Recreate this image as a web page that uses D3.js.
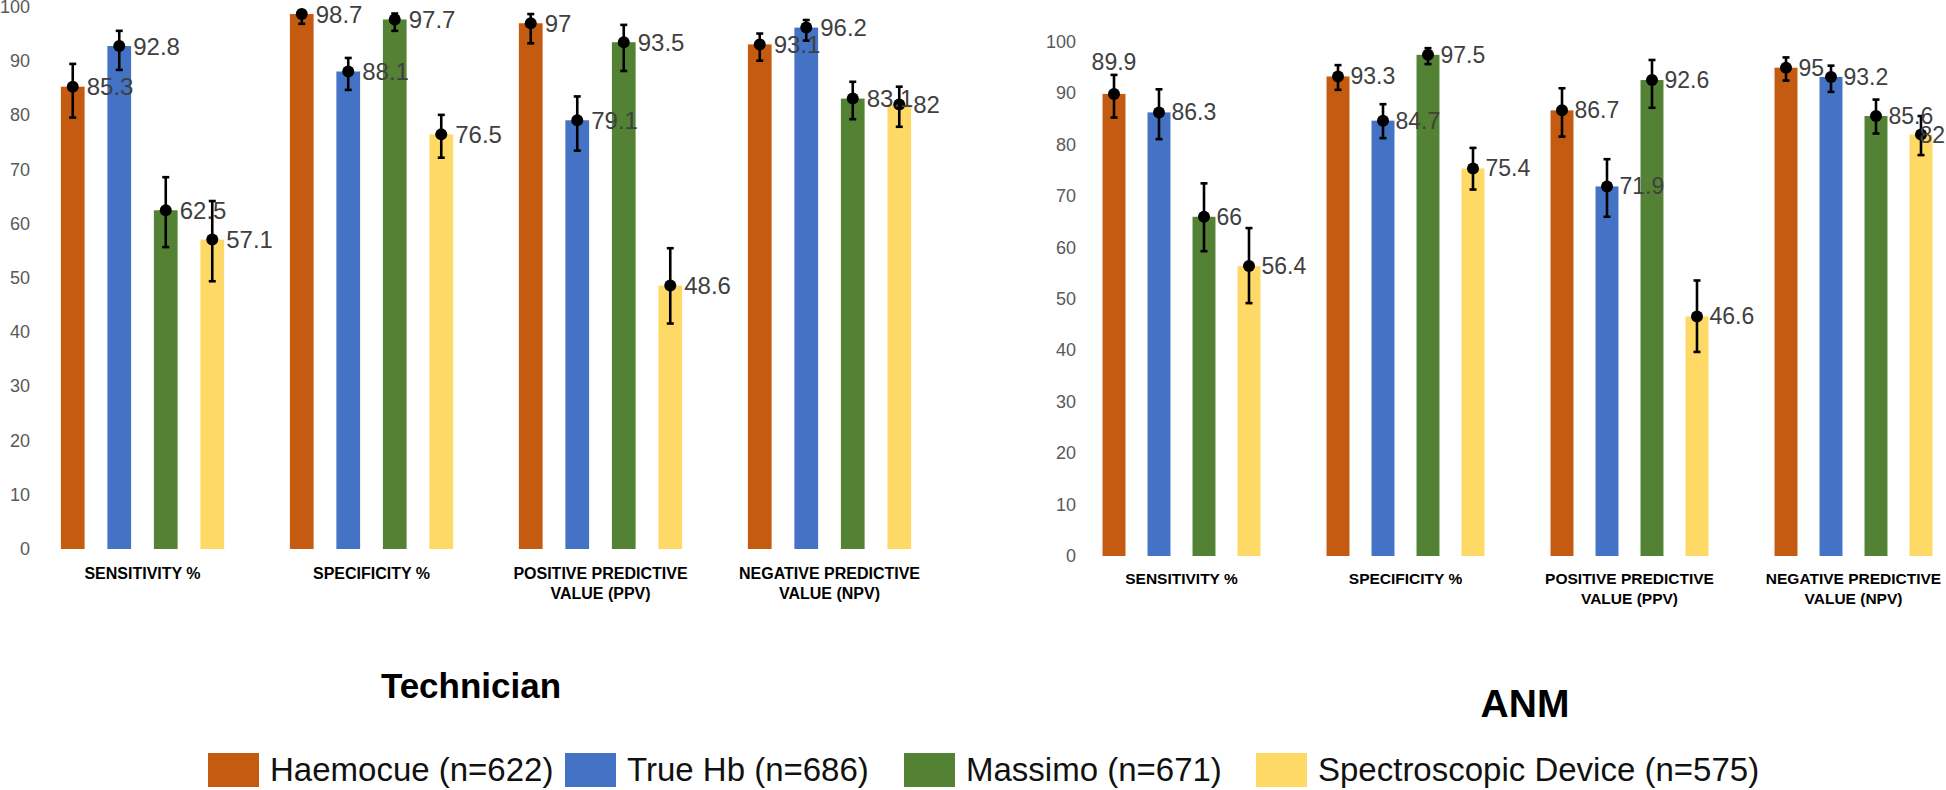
<!DOCTYPE html>
<html lang="en">
	<head>
		<meta charset="utf-8">
		<title>Haemoglobin devices - Technician vs ANM</title>
		<script type="text/javascript" src="https://cdn.jsdelivr.net/npm/d3@7"></script>
		<style type="text/css">
			body{margin:0;background-color:#fff;}
			svg{display:block;font-family:"Liberation Sans",Arial,sans-serif;}
			.tick{fill:#595959;font-size:18px;}
			.cat{fill:#000;font-weight:bold;}
			.val{fill:#404040;}
		</style>
	</head>
	<body>
		<script type="text/javascript">

		// ---- data ----
		var devices = ["Haemocue (n=622)", "True Hb (n=686)", "Massimo (n=671)", "Spectroscopic Device (n=575)"];
		var colors = ["#C55A11", "#4472C4", "#548235", "#FFD966"];
		var metrics = [["SENSITIVITY %"], ["SPECIFICITY %"], ["POSITIVE PREDICTIVE", "VALUE (PPV)"], ["NEGATIVE PREDICTIVE", "VALUE (NPV)"]];
		var yTicks = [0, 10, 20, 30, 40, 50, 60, 70, 80, 90, 100];

		// Technician: one row per metric, one value per device
		var techValues = [
			[85.3, 92.8, 62.5, 57.1],
			[98.7, 88.1, 97.7, 76.5],
			[97, 79.1, 93.5, 48.6],
			[93.1, 96.2, 83.1, 82]
		];
		var techLow = [
			[79.6, 88.4, 55.7, 49.4],
			[96.9, 84.7, 95.6, 72.2],
			[93.3, 73.5, 88.2, 41.6],
			[90.1, 93.8, 79.3, 77.9]
		];
		var techHigh = [
			[89.5, 95.6, 68.6, 64.2],
			[99.3, 90.6, 98.8, 80.1],
			[98.7, 83.5, 96.7, 55.5],
			[95.1, 97.6, 86.2, 85.3]
		];

		// ANM
		var anmValues = [
			[89.9, 86.3, 66, 56.4],
			[93.3, 84.7, 97.5, 75.4],
			[86.7, 71.9, 92.6, 46.6],
			[95, 93.2, 85.6, 82]
		];
		var anmLow = [
			[85.3, 81.1, 59.3, 49.2],
			[90.7, 81.3, 95.7, 71.3],
			[81.6, 66.0, 87.2, 39.7],
			[92.5, 90.3, 82.2, 78.0]
		];
		var anmHigh = [
			[93.6, 90.8, 72.5, 63.8],
			[95.5, 87.9, 98.8, 79.4],
			[91.0, 77.2, 96.5, 53.6],
			[97.0, 95.4, 88.8, 85.6]
		];

		var w = 1946;
		var h = 790;

		var svg = d3.select("body")
					.append("svg")
					.attr("width", w)
					.attr("height", h);

		function drawPanel(p) {
			var g = svg.append("g");

			var x0 = d3.scaleBand()
						.domain(d3.range(metrics.length))
						.range([p.left, p.right]);

			var x1 = d3.scaleBand()
						.domain(d3.range(devices.length))
						.range([0, x0.bandwidth()])
						.paddingInner(0.49)
						.paddingOuter(p.outer);

			var y = d3.scaleLinear()
						.domain([0, 100])
						.range([p.base, p.top]);

			// y tick labels, no axis line
			g.selectAll("text.tick")
			 .data(yTicks)
			 .enter()
			 .append("text")
			 .attr("class", "tick")
			 .attr("x", p.tickX)
			 .attr("y", function(d) { return y(d); })
			 .attr("text-anchor", "end")
			 .attr("dominant-baseline", "central")
			 .text(function(d) { return d; });

			var cells = [];
			p.values.forEach(function(row, m) {
				row.forEach(function(v, s) {
					cells.push({m: m, s: s, v: v, lo: p.low[m][s], hi: p.high[m][s]});
				});
			});
			function cx(d) { return x0(d.m) + x1(d.s) + x1.bandwidth() / 2; }

			g.selectAll("rect")
			 .data(cells)
			 .enter()
			 .append("rect")
			 .attr("x", function(d) { return x0(d.m) + x1(d.s); })
			 .attr("y", function(d) { return y(d.v); })
			 .attr("width", x1.bandwidth())
			 .attr("height", function(d) { return y(0) - y(d.v); })
			 .style("fill", function(d) { return colors[d.s]; });

			// error bars
			var eb = g.selectAll("g.eb")
					  .data(cells)
					  .enter()
					  .append("g");
			eb.append("line")
			  .attr("x1", cx).attr("x2", cx)
			  .attr("y1", function(d) { return y(d.lo); })
			  .attr("y2", function(d) { return y(d.hi); });
			eb.append("line")
			  .attr("x1", function(d) { return cx(d) - 3.5; })
			  .attr("x2", function(d) { return cx(d) + 3.5; })
			  .attr("y1", function(d) { return y(d.hi); })
			  .attr("y2", function(d) { return y(d.hi); });
			eb.append("line")
			  .attr("x1", function(d) { return cx(d) - 3.5; })
			  .attr("x2", function(d) { return cx(d) + 3.5; })
			  .attr("y1", function(d) { return y(d.lo); })
			  .attr("y2", function(d) { return y(d.lo); });
			eb.selectAll("line")
			  .style("stroke", "#000")
			  .style("stroke-width", 2.6);
			eb.append("circle")
			  .attr("cx", cx)
			  .attr("cy", function(d) { return y(d.v); })
			  .attr("r", 6)
			  .style("fill", "#000");

			// value labels
			g.selectAll("text.val")
			 .data(cells)
			 .enter()
			 .append("text")
			 .attr("class", "val")
			 .style("font-size", p.valSize + "px")
			 .attr("x", function(d) {
				 return p.above(d) ? cx(d) : cx(d) + p.valGap;
			 })
			 .attr("y", function(d) {
				 return p.above(d) ? y(d.v) - 32 : y(d.v);
			 })
			 .attr("text-anchor", function(d) { return p.above(d) ? "middle" : "start"; })
			 .attr("dominant-baseline", "central")
			 .text(function(d) { return d.v; })
			 .each(function() {
				 // pull labels back inside the picture if they run off the right edge
				 var b = this.getBBox();
				 if (b.x + b.width > w - 1) {
					 d3.select(this).attr("x", w - 1 - b.width);
				 }
			 });

			// category labels
			var cat = g.selectAll("text.cat")
					   .data(metrics)
					   .enter()
					   .append("text")
					   .attr("class", "cat")
					   .style("font-size", p.catSize + "px")
					   .attr("text-anchor", "middle")
					   .attr("transform", function(d, i) {
						   return "translate(" + (x0(i) + x0.bandwidth() / 2) + "," + p.catY + ")";
					   });
			cat.selectAll("tspan")
			   .data(function(d) { return d; })
			   .enter()
			   .append("tspan")
			   .attr("x", 0)
			   .attr("y", function(d, i) { return i * 20; })
			   .text(function(d) { return d; });

			svg.append("text")
			   .attr("x", p.titleX)
			   .attr("y", p.titleY)
			   .attr("text-anchor", "middle")
			   .style("font-weight", "bold")
			   .style("font-size", p.titleSize + "px")
			   .style("fill", "#000")
			   .text(p.title);
		}

		drawPanel({
			values: techValues, low: techLow, high: techHigh,
			left: 28, right: 944, outer: 0.707, base: 549, top: 7, tickX: 30,
			valSize: 24, valGap: 14, catSize: 16, catY: 579,
			above: function() { return false; },
			title: "Technician", titleX: 471, titleY: 698, titleSize: 35
		});

		drawPanel({
			values: anmValues, low: anmLow, high: anmHigh,
			left: 1069.5, right: 1965.5, outer: 0.734, base: 556, top: 42, tickX: 1076,
			valSize: 23, valGap: 12.5, catSize: 15.5, catY: 584,
			// the first Haemocue label sits above its point
			above: function(d) { return d.m === 0 && d.s === 0; },
			title: "ANM", titleX: 1525, titleY: 717, titleSize: 39
		});

		// legend
		var legendX = [208, 565, 904, 1256];
		var leg = svg.selectAll("g.leg")
					 .data(devices)
					 .enter()
					 .append("g")
					 .attr("transform", function(d, i) { return "translate(" + legendX[i] + ",753)"; });
		leg.append("rect")
		   .attr("width", 51)
		   .attr("height", 34)
		   .style("fill", function(d, i) { return colors[i]; });
		leg.append("text")
		   .attr("x", 62)
		   .attr("y", 28)
		   .style("font-size", "33px")
		   .style("fill", "#111")
		   .text(function(d) { return d; });

		</script>
	</body>
</html>
